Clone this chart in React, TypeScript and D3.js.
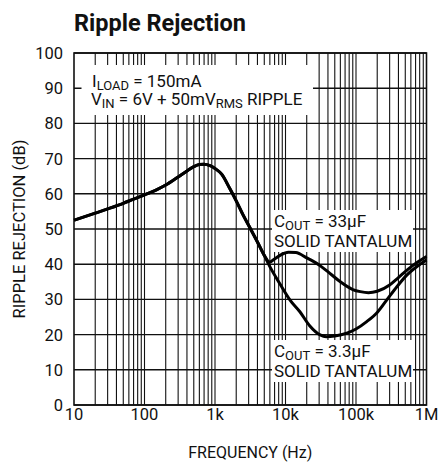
import React from "react";
import * as d3 from "d3";

const W = 438;
const H = 462;

const yTicks = [0, 10, 20, 30, 40, 50, 60, 70, 80, 90, 100];
const xTickValues = [10, 100, 1000, 10000, 100000, 1000000];
const xTickLabels = ["10", "100", "1k", "10k", "100k", "1M"];

// shared low-frequency portion (Hz, dB)
const sharedFreq = [10, 20, 30, 50, 70, 100, 150, 200, 300, 400, 500, 600, 700, 850, 1000, 1250, 1600, 2000, 2500, 3200, 4000, 5000];
const sharedDb = [52.5, 54.5, 55.7, 57.3, 58.5, 59.7, 61.2, 62.5, 64.8, 66.5, 67.7, 68.3, 68.4, 68.0, 67.2, 65.5, 61.7, 58.0, 54.0, 50.0, 46.3, 42.5];

const c33Freq = [6000, 7000, 8500, 11000, 14000, 20000, 30000, 45000, 60000, 90000, 115000, 150000, 200000, 300000, 400000, 550000, 750000, 1000000];
const c33Db = [40.6, 41.5, 42.6, 43.4, 43.3, 41.8, 39.8, 37.0, 35.0, 32.8, 32.2, 31.9, 32.3, 34.1, 36.2, 38.6, 40.6, 42.2];

const c3Freq = [6000, 8400, 11600, 16000, 22000, 31000, 38000, 50000, 74000, 100000, 142000, 200000, 272000, 380000, 525000, 750000, 1000000];
const c3Db = [39.3, 34.3, 29.8, 26.5, 22.5, 19.9, 19.4, 19.6, 20.4, 21.6, 23.7, 26.3, 29.8, 33.6, 36.9, 39.5, 41.2];

const FONT = "Roboto, 'Liberation Sans', Arial, sans-serif";

export default function App() {
  const left = 74, right = 426.5, top = 53, bottom = 405;
  const x = d3.scaleLog().domain([10, 1000000]).range([left, right]);
  const y = d3.scaleLinear().domain([0, 100]).range([bottom, top]);

  const minor: number[] = [];
  for (let dec = 10; dec < 1000000; dec *= 10) {
    for (let m = 2; m <= 9; m++) minor.push(dec * m);
  }
  const verticals = [...minor, 100, 1000, 10000, 100000];

  const line = d3
    .line<[number, number]>()
    .x((d) => x(d[0]))
    .y((d) => y(d[1]))
    .curve(d3.curveMonotoneX);

  const shared: [number, number][] = sharedFreq.map((f, i) => [f, sharedDb[i]]);
  const s33: [number, number][] = [...shared, ...c33Freq.map((f, i) => [f, c33Db[i]] as [number, number])];
  const s3: [number, number][] = [...shared, ...c3Freq.map((f, i) => [f, c3Db[i]] as [number, number])];

  const masks = [
    { x0: 81.5, x1: 313, y0: 65, y1: 115 },
    { x0: 272, x1: 413, y0: 210, y1: 252 },
    { x0: 272, x1: 413, y0: 340, y1: 382 },
  ];

  const fs = 17;
  const sub = 13;

  return (
    <svg
      width={W}
      height={H}
      style={{ position: "absolute", left: 0, top: 0, background: "#fff" }}
      fontFamily={FONT}
    >
      <rect x={0} y={0} width={W} height={H} fill="#fff" />
      <text x={74} y={31} fontSize={23.5} fontWeight="bold" fill="#111">
        Ripple Rejection
      </text>

      {/* grid */}
      {verticals.map((f) => (
        <line key={"v" + f} x1={x(f)} x2={x(f)} y1={top} y2={bottom} stroke="#111" strokeWidth={1.1} />
      ))}
      {yTicks.map((t) => (
        <line key={"h" + t} x1={left} x2={right} y1={y(t)} y2={y(t)} stroke="#111" strokeWidth={1.4} />
      ))}

      {masks.map((m, i) => (
        <rect key={"m" + i} x={m.x0} y={m.y0} width={m.x1 - m.x0} height={m.y1 - m.y0} fill="#fff" />
      ))}

      <rect x={left} y={top} width={right - left} height={bottom - top} fill="none" stroke="#111" strokeWidth={1.6} />

      {/* curves */}
      <path d={line(s3) || ""} fill="none" stroke="#000" strokeWidth={3} strokeLinejoin="round" />
      <path d={line(s33) || ""} fill="none" stroke="#000" strokeWidth={3} strokeLinejoin="round" />

      {/* y tick labels */}
      {yTicks.map((t) => (
        <text key={"yl" + t} x={63} y={y(t)} dy="0.36em" textAnchor="end" fontSize={16.5} fill="#111">
          {t}
        </text>
      ))}
      {/* x tick labels */}
      {xTickValues.map((v, i) => (
        <text key={"xl" + v} x={x(v)} y={420} textAnchor="middle" fontSize={16.5} fill="#111">
          {xTickLabels[i]}
        </text>
      ))}

      <text x={(left + right) / 2} y={458} textAnchor="middle" fontSize={16} fill="#111">
        FREQUENCY (Hz)
      </text>
      <text
        transform={`translate(25, ${(top + bottom) / 2}) rotate(-90)`}
        textAnchor="middle"
        fontSize={16.5}
        fill="#111"
      >
        RIPPLE REJECTION (dB)
      </text>

      {/* annotations */}
      <text x={92} y={87} fontSize={fs} fill="#111">
        I<tspan fontSize={sub} dy={3}>LOAD</tspan>
        <tspan dy={-3}> = 150mA</tspan>
      </text>
      <text x={91} y={105} fontSize={fs} fill="#111">
        V<tspan fontSize={sub} dy={3}>IN</tspan>
        <tspan dy={-3}> = 6V + 50mV</tspan>
        <tspan fontSize={sub} dy={3}>RMS</tspan>
        <tspan dy={-3}> RIPPLE</tspan>
      </text>

      <text x={274} y={227} fontSize={fs} fill="#111">
        C<tspan fontSize={sub} dy={3}>OUT</tspan>
        <tspan dy={-3}> = 33µF</tspan>
      </text>
      <text x={274} y={247} fontSize={fs} fill="#111">
        SOLID TANTALUM
      </text>

      <text x={274} y={357} fontSize={fs} fill="#111">
        C<tspan fontSize={sub} dy={3}>OUT</tspan>
        <tspan dy={-3}> = 3.3µF</tspan>
      </text>
      <text x={274} y={377} fontSize={fs} fill="#111">
        SOLID TANTALUM
      </text>
    </svg>
  );
}
